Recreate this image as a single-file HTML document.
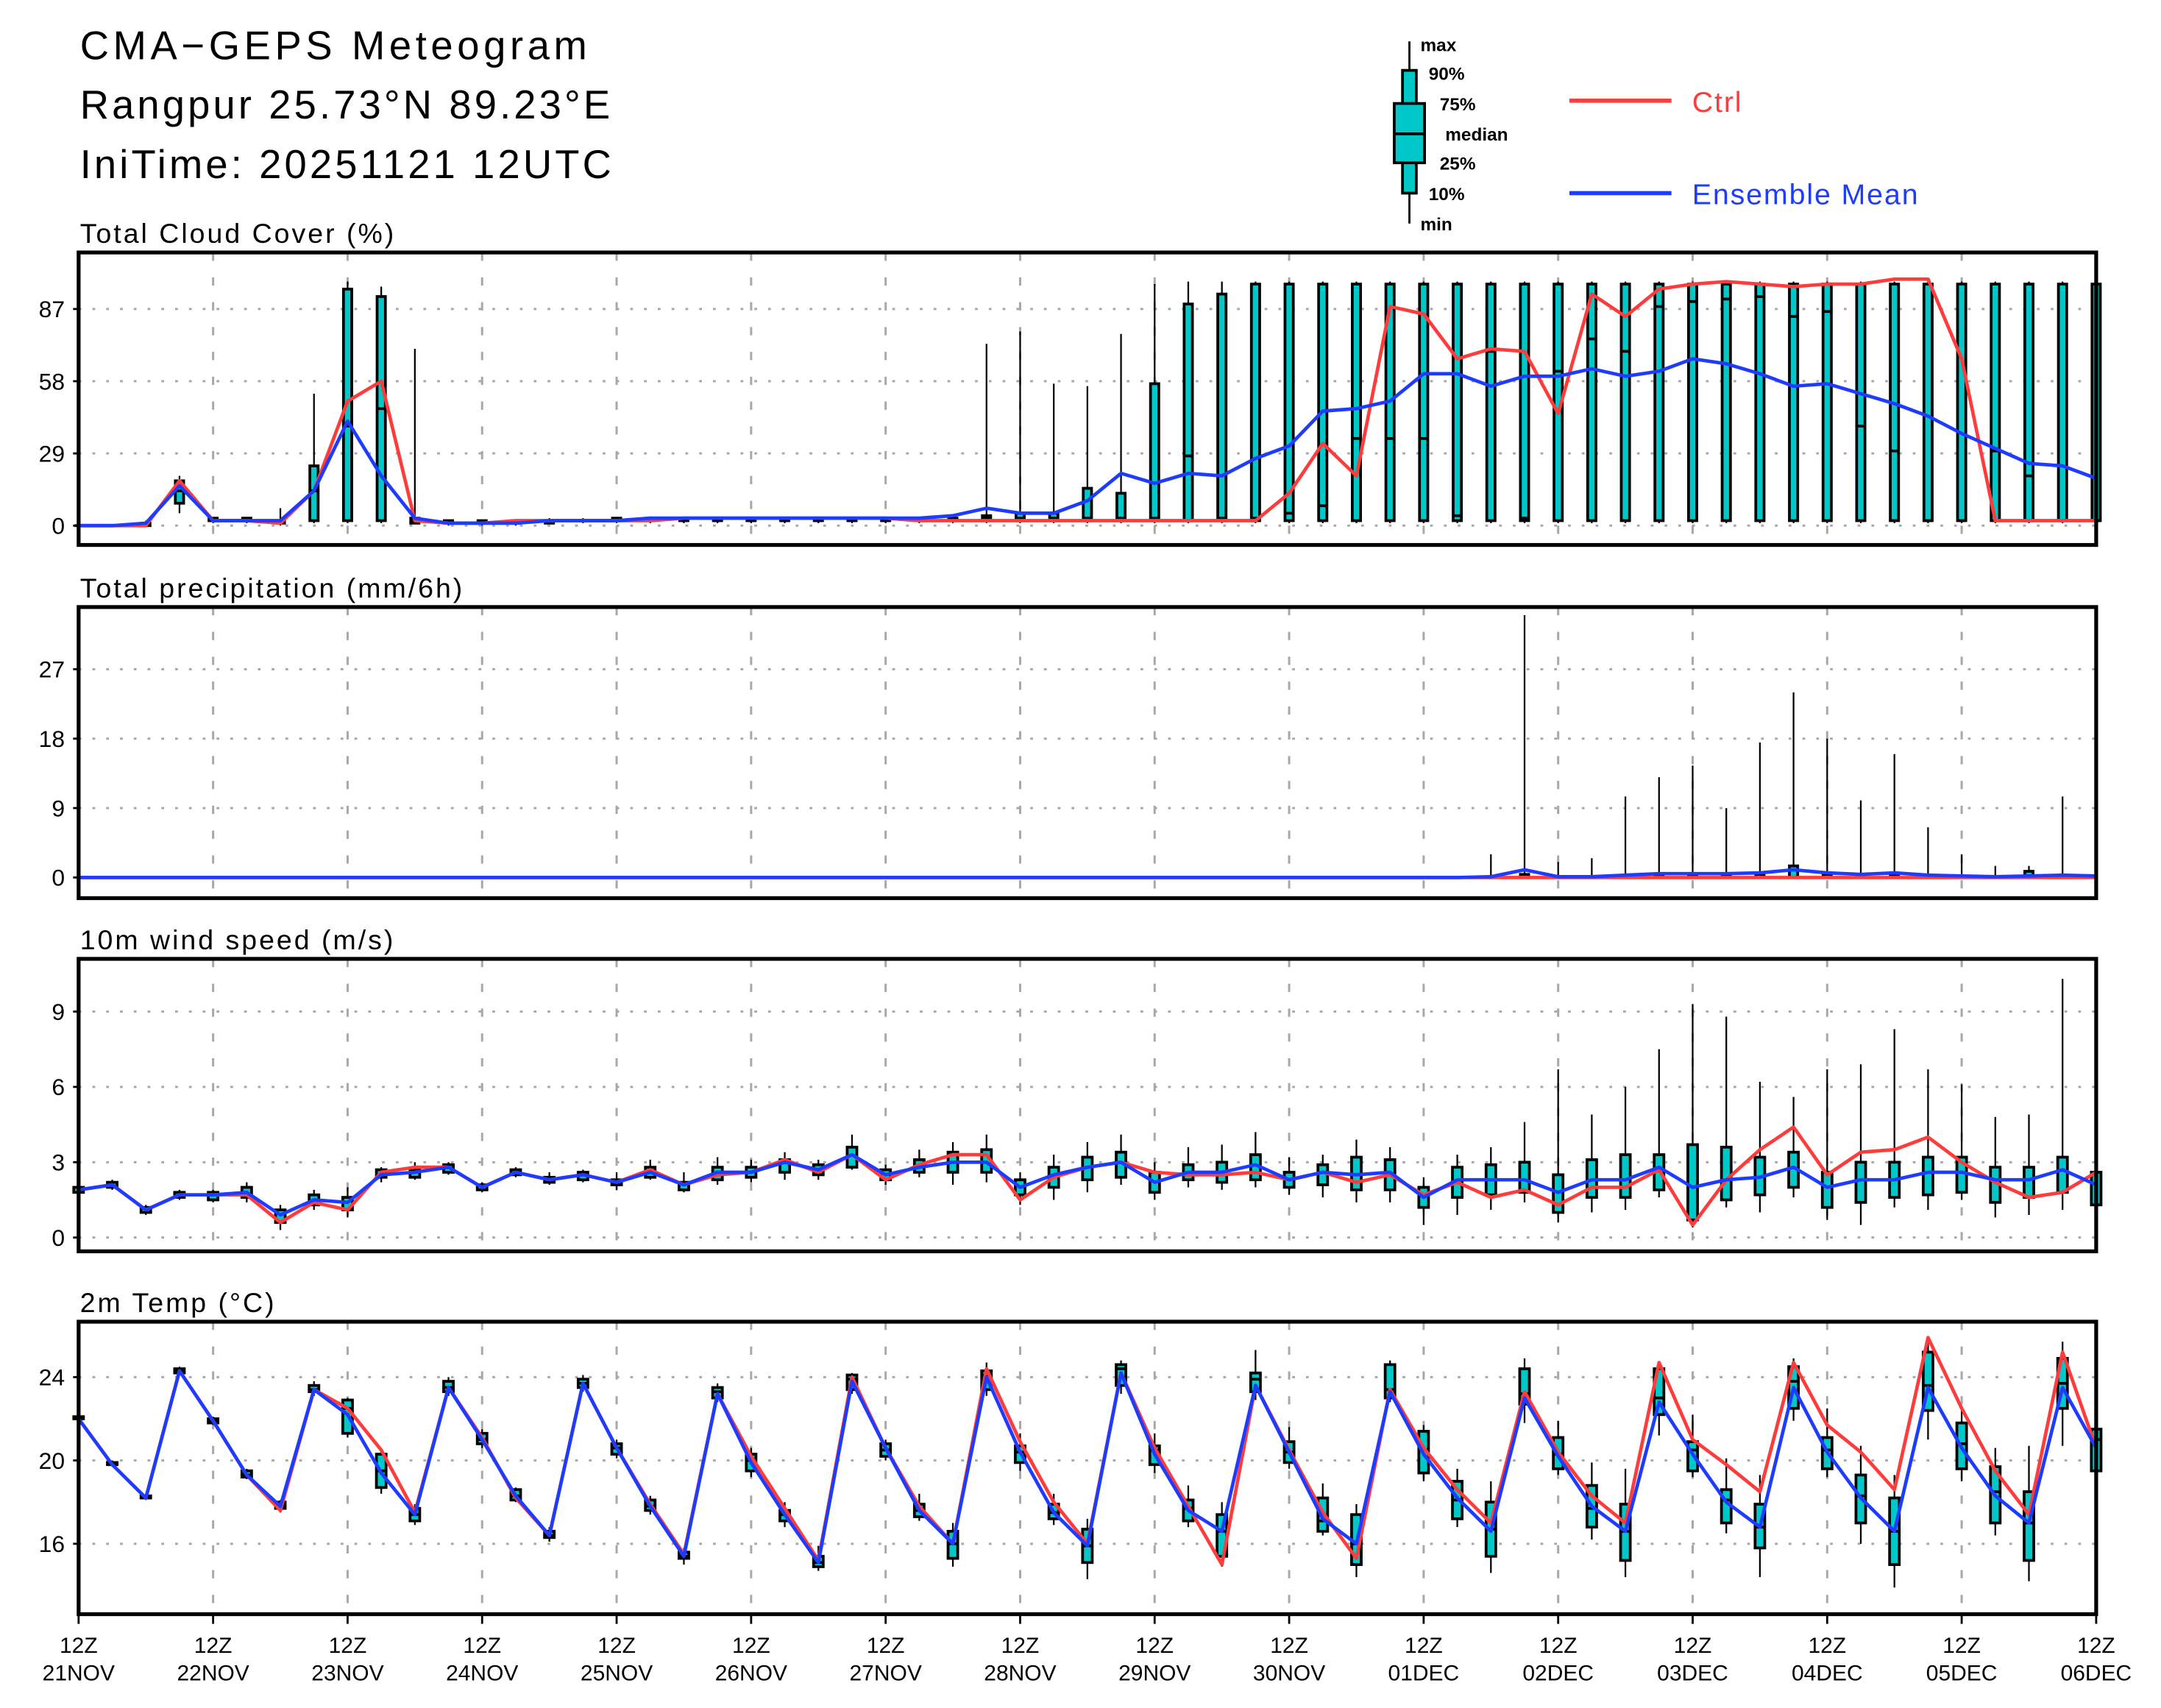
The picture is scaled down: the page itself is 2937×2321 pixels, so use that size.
<!DOCTYPE html>
<html><head><meta charset="utf-8">
<style>
html,body{margin:0;padding:0;background:#fff;}
svg{display:block;}
text{font-family:"Liberation Sans",sans-serif;}
</style></head>
<body>
<svg id="chart" width="2937" height="2321" viewBox="0 0 1567 1238" preserveAspectRatio="none" xmlns="http://www.w3.org/2000/svg">
<rect x="0" y="0" width="1567" height="1238" fill="#fff"/>
<g font-size="29" fill="#000" letter-spacing="3">
<text x="58" y="43">CMA−GEPS Meteogram</text>
<text x="58" y="86" letter-spacing="2.2">Rangpur 25.73°N 89.23°E</text>
<text x="58" y="129" letter-spacing="2.2">IniTime: 20251121 12UTC</text>
</g>
<g>
<line x1="1022" y1="30" x2="1022" y2="162" stroke="#000" stroke-width="1.5"/>
<rect x="1017" y="51" width="10" height="89" fill="#00c8c8" stroke="#000" stroke-width="2"/>
<rect x="1011" y="75" width="22" height="43" fill="#00c8c8" stroke="#000" stroke-width="2"/>
<line x1="1011" y1="97" x2="1033" y2="97" stroke="#000" stroke-width="2"/>
<g font-size="13" font-weight="bold" fill="#000">
<text x="1030" y="37">max</text><text x="1036" y="58">90%</text><text x="1044" y="80">75%</text>
<text x="1048" y="102">median</text><text x="1044" y="123">25%</text><text x="1036" y="145">10%</text><text x="1030" y="167">min</text>
</g>
<line x1="1138" y1="73" x2="1212" y2="73" stroke="#ff3c3c" stroke-width="3"/>
<text x="1227" y="81" font-size="21" fill="#ff3c3c" letter-spacing="1">Ctrl</text>
<line x1="1138" y1="140" x2="1212" y2="140" stroke="#1e3cff" stroke-width="3"/>
<text x="1227" y="148" font-size="21" fill="#1e3cff" letter-spacing="1">Ensemble Mean</text>
</g>
<g id="panels"></g>
</svg>
<script>
// ---- data (61 steps, every 6h from 12Z 21NOV) ----
const days = ["21NOV","22NOV","23NOV","24NOV","25NOV","26NOV","27NOV","28NOV","29NOV","30NOV","01DEC","02DEC","03DEC","04DEC","05DEC","06DEC"];
// cloud cover (%)
const cloudMean = [0,0,1,16,2,2,2,14,42,20,3,1,1,1,2,2,2,3,3,3,3,3,3,3,3,3,4,7,5,5,10,21,17,21,20,27,32,46,47,50,61,61,56,60,60,63,60,62,67,65,61,56,57,53,49,44,37,31,25,24,19];
const cloudCtrl = [0,0,0,18,2,2,1,14,50,58,2,1,1,2,2,2,2,2,3,3,3,3,3,3,3,2,2,2,2,2,2,2,2,2,2,2,13,33,20,88,85,67,71,70,45,93,84,95,97,98,97,96,97,97,99,99,67,2,2,2,2];
const cloudMin = [0,0,0,5,1,1,0,1,1,1,1,0,0,0,1,1,1,1,1,1,1,1,1,1,1,1,1,1,1,1,1,1,1,1,1,1,1,1,1,1,1,1,1,1,1,1,1,1,1,1,1,1,1,1,1,1,1,1,1,1,1];
const cloudQ1 = [0,0,0,9,2,2,1,2,2,2,1,1,1,1,1,2,2,2,2,2,2,2,2,2,2,2,2,2,2,2,2,2,2,2,2,2,2,2,2,2,2,2,2,2,2,2,2,2,2,2,2,2,2,2,2,2,2,2,2,2,2];
const cloudMed = [0,0,1,14,2,2,2,14,40,47,2,1,1,1,2,2,2,2,2,2,2,2,2,2,2,2,2,3,3,3,3,3,3,28,3,3,5,8,35,35,35,4,70,3,62,75,70,88,90,91,92,84,86,40,30,2,2,30,20,2,2];
const cloudQ3 = [0,0,1,18,3,3,2,24,95,92,3,2,2,2,2,2,3,3,3,3,3,3,3,3,3,3,3,4,5,5,15,13,57,89,93,97,97,97,97,97,97,97,97,97,97,97,97,97,97,97,97,97,97,97,97,97,97,97,97,97,97];
const cloudMax = [0,0,2,20,3,3,7,53,98,96,71,2,2,2,3,3,3,3,3,3,3,3,3,3,3,3,3,73,78,57,56,77,97,98,98,98,98,98,98,98,98,98,98,98,98,98,98,98,98,98,98,98,98,98,98,98,98,98,98,98,98];
// precipitation (mm/6h)
const precMean = [0,0,0,0,0,0,0,0,0,0,0,0,0,0,0,0,0,0,0,0,0,0,0,0,0,0,0,0,0,0,0,0,0,0,0,0,0,0,0,0,0,0,0.1,1.0,0.1,0.1,0.3,0.5,0.5,0.5,0.6,1.0,0.6,0.4,0.6,0.3,0.2,0.1,0.2,0.3,0.2];
const precCtrl = [0,0,0,0,0,0,0,0,0,0,0,0,0,0,0,0,0,0,0,0,0,0,0,0,0,0,0,0,0,0,0,0,0,0,0,0,0,0,0,0,0,0,0,0,0,0,0,0,0,0,0,0,0,0,0,0,0,0,0,0,0];
const precQ3 = [0,0,0,0,0,0,0,0,0,0,0,0,0,0,0,0,0,0,0,0,0,0,0,0,0,0,0,0,0,0,0,0,0,0,0,0,0,0,0,0,0,0,0,0.4,0,0,0,0.2,0.3,0.2,0.4,1.5,0.4,0.2,0.3,0.1,0.1,0.1,0.8,0.2,0];
const precMax = [0,0,0,0,0,0,0,0,0.1,0,0.2,0,0,0,0,0,0,0,0,0,0,0,0,0,0,0,0,0,0,0,0,0,0,0,0,0,0,0,0,0,0,0,3,34,2,2.5,10.5,13,14.5,9,17.5,24,18,10,16,6.5,3,1.5,1.5,10.5,0.5];
// wind speed (m/s)
const windMean = [1.9,2.1,1.1,1.7,1.7,1.8,0.9,1.5,1.4,2.5,2.6,2.8,2.0,2.6,2.3,2.5,2.2,2.6,2.1,2.6,2.6,3.0,2.7,3.3,2.5,2.8,3.0,3.0,2.0,2.5,2.8,3.0,2.2,2.6,2.6,2.9,2.3,2.6,2.5,2.6,1.6,2.3,2.3,2.3,1.8,2.3,2.3,2.8,2.0,2.3,2.4,2.8,2.0,2.3,2.3,2.6,2.6,2.3,2.3,2.7,2.1];
const windCtrl = [1.9,2.1,1.1,1.7,1.7,1.7,0.6,1.4,1.1,2.6,2.8,2.8,2.0,2.6,2.3,2.5,2.2,2.7,2.1,2.5,2.6,3.1,2.6,3.3,2.3,2.9,3.3,3.3,1.5,2.4,2.8,3.0,2.6,2.5,2.5,2.6,2.3,2.6,2.2,2.5,1.7,2.2,1.6,1.9,1.3,2.0,2.0,2.7,0.5,2.3,3.5,4.4,2.5,3.4,3.5,4.0,3.0,2.2,1.6,1.8,2.6];
const windMin = [1.8,1.9,0.9,1.5,1.4,1.4,0.3,1.1,0.8,2.2,2.3,2.5,1.8,2.4,2.1,2.2,1.9,2.3,1.8,2.1,2.2,2.3,2.3,2.7,2.1,2.4,2.1,2.2,1.3,1.5,1.8,2.1,1.5,2.0,1.9,2.0,1.7,1.6,1.4,1.4,0.5,0.9,1.1,1.4,0.6,1.0,1.1,1.6,0.4,1.2,1.0,1.6,0.7,0.5,1.2,1.1,1.5,0.8,0.9,1.1,0.8];
const windQ1 = [1.8,2.0,1.0,1.6,1.5,1.6,0.6,1.3,1.1,2.4,2.4,2.6,1.9,2.5,2.2,2.3,2.1,2.4,1.9,2.3,2.4,2.6,2.5,2.8,2.3,2.6,2.6,2.6,1.7,2.0,2.3,2.4,1.8,2.3,2.2,2.3,2.0,2.1,1.9,1.9,1.2,1.6,1.7,1.8,1.0,1.6,1.6,1.9,0.7,1.5,1.7,2.0,1.2,1.4,1.6,1.7,1.8,1.4,1.6,1.8,1.3];
const windQ3 = [2.0,2.2,1.2,1.8,1.8,2.0,1.1,1.7,1.6,2.7,2.7,2.9,2.1,2.7,2.4,2.6,2.3,2.8,2.2,2.8,2.8,3.1,2.9,3.6,2.7,3.1,3.4,3.5,2.3,2.8,3.2,3.4,2.6,2.9,3.0,3.3,2.6,2.9,3.2,3.1,2.0,2.8,2.9,3.0,2.5,3.1,3.3,3.3,3.7,3.6,3.2,3.4,2.6,3.0,3.0,3.2,3.2,2.8,2.8,3.2,2.6];
const windMax = [2.1,2.3,1.3,1.9,1.9,2.2,1.3,1.9,2.0,2.8,3.0,3.0,2.2,2.8,2.6,2.7,2.6,3.1,2.6,3.2,3.1,3.4,3.1,4.1,2.9,3.5,3.8,4.1,2.6,3.3,3.8,4.1,3.0,3.6,3.7,4.2,3.2,3.3,3.9,3.6,2.4,3.3,3.6,4.6,6.7,4.9,6.0,7.5,9.3,8.8,6.2,5.6,6.7,6.9,8.3,6.7,6.1,4.8,4.9,10.3,3.2];
// 2m temperature (°C)
const tempMean = [22.0,19.8,18.2,24.3,21.9,19.3,17.8,23.4,22.2,19.4,17.4,23.5,21.0,18.3,16.4,23.7,20.6,17.8,15.4,23.2,19.9,17.4,15.1,23.8,20.6,17.6,16.0,24.0,20.4,17.5,15.9,24.2,20.3,17.6,16.6,23.6,20.4,17.2,16.0,23.3,20.3,18.2,16.6,23.0,20.2,17.8,16.6,22.8,20.3,18.0,16.8,23.5,20.4,18.2,16.6,23.5,20.6,18.3,17.0,23.5,20.6];
const tempCtrl = [22.0,19.8,18.2,24.3,21.9,19.3,17.6,23.4,22.5,20.5,17.5,23.5,21.1,18.2,16.4,23.7,20.6,17.9,15.5,23.2,20.2,17.7,15.2,24.0,20.6,17.8,16.0,24.4,20.9,18.0,16.0,24.2,20.6,17.8,15.0,23.6,20.5,17.5,15.3,23.4,20.6,18.6,17.0,23.3,20.4,18.3,17.0,24.7,21.0,19.8,18.5,24.7,21.7,20.4,18.6,25.9,22.5,19.5,17.4,25.2,20.6];
const tempMin = [21.9,19.7,18.1,24.1,21.7,19.1,17.5,23.1,21.1,18.4,16.9,23.1,20.6,18.0,16.1,23.3,20.1,17.4,15.0,22.8,19.2,16.8,14.7,23.2,20.0,17.1,14.9,23.1,19.5,16.9,14.3,23.2,19.4,16.8,14.9,22.9,19.6,16.4,14.4,22.8,19.0,16.8,14.6,21.8,19.3,16.2,14.4,21.2,19.2,16.5,14.4,21.9,19.2,16.0,13.9,21.0,19.0,16.4,14.2,20.7,19.3];
const tempQ1 = [22.0,19.8,18.2,24.2,21.8,19.2,17.7,23.3,21.3,18.7,17.1,23.3,20.8,18.1,16.3,23.5,20.3,17.6,15.3,23.0,19.5,17.1,14.9,23.4,20.2,17.3,15.3,23.4,19.9,17.2,15.1,23.6,19.8,17.1,15.4,23.3,19.9,16.6,15.0,23.0,19.4,17.2,15.4,22.7,19.6,16.8,15.2,22.2,19.5,17.0,15.8,22.5,19.6,17.0,15.0,22.4,19.6,17.0,15.2,22.5,19.5];
const tempMed = [22.0,19.8,18.2,24.3,21.9,19.3,17.8,23.4,22.5,19.5,17.4,23.5,21.0,18.3,16.4,23.7,20.6,17.8,15.4,23.3,20.0,17.4,15.1,23.9,20.5,17.6,16.0,24.1,20.4,17.5,15.9,24.4,20.5,17.7,16.6,23.9,20.4,17.1,16.0,23.4,20.5,18.1,16.7,23.2,20.3,17.7,16.6,23.0,20.5,18.1,16.8,23.8,20.5,18.3,16.6,23.6,20.8,18.5,17.0,23.7,21.0];
const tempQ3 = [22.1,19.9,18.3,24.4,22.0,19.5,18.0,23.6,22.9,20.3,17.7,23.8,21.3,18.6,16.6,23.9,20.8,18.1,15.6,23.5,20.3,17.6,15.4,24.1,20.8,17.9,16.6,24.3,20.7,17.9,16.7,24.6,20.7,18.1,17.4,24.2,20.9,18.2,17.4,24.6,21.4,19.0,18.0,24.4,21.1,18.8,17.9,24.4,20.9,18.6,17.9,24.5,21.1,19.3,18.2,25.2,21.8,19.7,18.5,24.9,21.5];
const tempMax = [22.2,20.0,18.4,24.5,22.1,19.6,18.1,23.8,23.0,20.5,17.9,24.0,21.5,18.7,16.8,24.1,21.0,18.3,15.8,23.7,20.6,18.0,15.9,24.2,21.0,18.4,17.0,24.7,21.3,18.4,17.2,24.8,21.3,18.8,18.0,25.3,21.6,18.9,17.9,24.8,21.7,19.6,19.0,24.9,21.9,19.9,19.6,24.5,22.2,20.1,19.3,24.9,22.5,20.7,19.3,25.9,22.6,20.6,20.7,25.7,21.4];

const S = document.getElementById('panels');
const NS = 'http://www.w3.org/2000/svg';
const X0 = 57, X1 = 1520, NSTEP = 60;
function xs(i){ return X0 + (X1 - X0) * i / NSTEP; }
function mk(tag, attrs, parent){
  const e = document.createElementNS(NS, tag);
  for (const k in attrs) e.setAttribute(k, attrs[k]);
  (parent || S).appendChild(e);
  return e;
}
function panel(cfg){
  const g = mk('g', {});
  
  
  const ys = v => cfg.bot - (v - cfg.vmin) / (cfg.vmax - cfg.vmin) * (cfg.bot - cfg.top);
  const t = mk('text', {x: 58, y: cfg.top - 7, 'font-size': 20, 'letter-spacing': 1.6}, g);
  t.textContent = cfg.title;
  
  
  for (let d = 1; d < days.length - 1; d++){
    const x = xs(d * 4);
    const gl = mk('line', {x1: x, y1: cfg.top, x2: x, y2: cfg.bot, stroke: '#a8a8a8', 'stroke-width': 1.6, 'stroke-dasharray': '6 12'}, g);
    
    
  }
  cfg.ticks.forEach(tv => {
    const y = ys(tv);
    const hl = mk('line', {x1: X0, y1: y, x2: X1, y2: y, stroke: '#a8a8a8', 'stroke-width': 1.6, 'stroke-dasharray': '2 8'}, g);
    
    
    mk('line', {x1: X0 - 4, y1: y, x2: X0, y2: y, stroke: '#000', 'stroke-width': 1.5}, g);
    const tl = mk('text', {x: X0 - 10, y: y + 6, 'font-size': 17, 'text-anchor': 'end'}, g);
    tl.textContent = String(tv);
    
    
  });
  for (let i = 0; i <= NSTEP; i++){
    const x = xs(i);
    const bg = mk('g', {}, g);
    
    
    if (cfg.max) mk('line', {x1: x, y1: ys(cfg.max[i]), x2: x, y2: ys(cfg.min ? cfg.min[i] : 0), stroke: '#000', 'stroke-width': 1.2}, bg);
    if (cfg.q3){
      const lo = cfg.q1 ? cfg.q1[i] : 0, hi = cfg.q3[i];
      const y1 = ys(hi), y2 = ys(lo);
      if (y2 - y1 > 0.3){
        const w = cfg.bw;
        mk('rect', {x: x - w/2, y: y1, width: w, height: y2 - y1, fill: '#00c8c8', stroke: '#000', 'stroke-width': 2}, bg);
      }
      if (cfg.med) mk('line', {x1: x - cfg.bw/2, y1: ys(cfg.med[i]), x2: x + cfg.bw/2, y2: ys(cfg.med[i]), stroke: '#000', 'stroke-width': 2}, bg);
    }
  }
  const path = arr => arr.map((v, i) => (i ? 'L' : 'M') + xs(i).toFixed(2) + ' ' + ys(v).toFixed(2)).join(' ');
  const rl = mk('path', {d: path(cfg.ctrl), fill: 'none', stroke: '#ff3c3c', 'stroke-width': 2.5, 'stroke-linejoin': 'round'}, g);
  
  
  const bl = mk('path', {d: path(cfg.mean), fill: 'none', stroke: '#1e3cff', 'stroke-width': 2.5, 'stroke-linejoin': 'round'}, g);
  
  
  const fr = mk('rect', {x: X0, y: cfg.top, width: X1 - X0, height: cfg.bot - cfg.top, fill: 'none', stroke: '#000', 'stroke-width': 2.8}, g);
  
  
}
panel({name: 'cloud-panel', title: 'Total Cloud Cover (%)', top: 183, bot: 395, vmin: -7.76, vmax: 109.7, ticks: [0,29,58,87], bw: 6,
  mean: cloudMean, ctrl: cloudCtrl, min: cloudMin, q1: cloudQ1, med: cloudMed, q3: cloudQ3, max: cloudMax});
panel({name: 'precip-panel', title: 'Total precipitation (mm/6h)', top: 440, bot: 651, vmin: -2.68, vmax: 35.06, ticks: [0,9,18,27], bw: 6,
  mean: precMean, ctrl: precCtrl, q3: precQ3, max: precMax});
panel({name: 'wind-panel', title: '10m wind speed (m/s)', top: 695, bot: 907, vmin: -0.55, vmax: 11.1, ticks: [0,3,6,9], bw: 7,
  mean: windMean, ctrl: windCtrl, min: windMin, q1: windQ1, q3: windQ3, max: windMax});
panel({name: 'temp-panel', title: '2m Temp (°C)', top: 958, bot: 1170, vmin: 12.62, vmax: 26.66, ticks: [16,20,24], bw: 7,
  mean: tempMean, ctrl: tempCtrl, min: tempMin, q1: tempQ1, med: tempMed, q3: tempQ3, max: tempMax});
days.forEach((d, k) => {
  const x = xs(k * 4);
  mk('line', {x1: x, y1: 1170, x2: x, y2: 1177, stroke: '#000', 'stroke-width': 1.5});
  const a = mk('text', {x: x, y: 1198, 'font-size': 16, 'text-anchor': 'middle'});
  a.textContent = '12Z';
  
  
  const b = mk('text', {x: x, y: 1218, 'font-size': 16, 'text-anchor': 'middle'});
  b.textContent = d;
  
  
});
</script>
</body></html>
